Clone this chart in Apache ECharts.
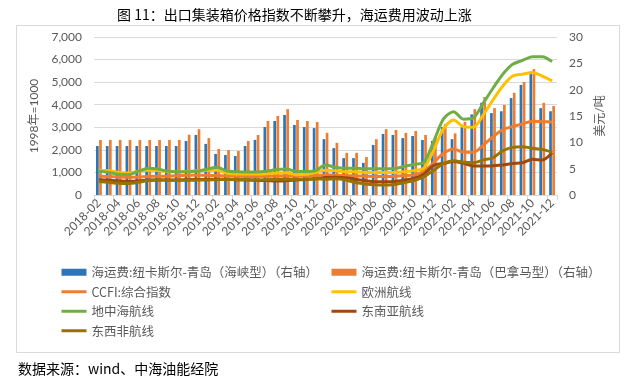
<!DOCTYPE html>
<html><head><meta charset="utf-8">
<script src="https://cdn.jsdelivr.net/npm/echarts@6/dist/echarts.min.js"></script>
<style>html,body{margin:0;padding:0;background:#fff}#c{width:637px;height:385px}</style>
</head><body><div id="c"></div>
<script>
const months = ['2018-02','2018-03','2018-04','2018-05','2018-06','2018-07','2018-08','2018-09','2018-10','2018-11','2018-12',
'2019-01','2019-02','2019-03','2019-04','2019-05','2019-06','2019-07','2019-08','2019-09','2019-10','2019-11','2019-12',
'2020-01','2020-02','2020-03','2020-04','2020-05','2020-06','2020-07','2020-08','2020-09','2020-10','2020-11','2020-12',
'2021-01','2021-02','2021-03','2021-04','2021-05','2021-06','2021-07','2021-08','2021-09','2021-10','2021-11','2021-12'];
const capesize = [9.3,9.3,9.3,9.3,9.3,9.3,9.3,9.3,9.3,10.25,11.4,9.7,7.8,7.6,7.4,9.3,10.45,12.9,14.05,15.2,13.3,12.9,12.7,
10.6,8.9,7.0,7.0,6.1,9.5,11.6,11.4,10.8,11.2,10.45,10.25,12.9,10.6,12.85,15.3,17.5,15.55,15.9,18.4,20.9,23.1,16.5,15.9];
const panamax = [10.45,10.45,10.45,10.45,10.45,10.45,10.45,10.45,10.45,11.45,12.5,10.8,8.75,8.55,8.35,10.25,11.4,14.05,15.0,16.3,14.25,14.05,13.85,
11.8,9.9,8.0,8.0,7.2,10.6,12.5,12.35,11.8,12.15,11.4,11.2,13.5,11.7,13.9,16.3,18.6,16.5,17.1,19.4,21.45,23.9,17.5,16.9];
const ccfi = [830,820,800,790,800,820,830,840,850,870,880,870,860,840,830,820,820,830,840,850,840,840,860,
900,880,860,850,840,820,820,830,860,900,1050,1450,1850,2040,1900,1890,2200,2580,2900,3030,3150,3270,3250,3230];
const europe = [1100,1080,1000,980,1050,1100,1080,1040,1030,1050,1080,1100,1100,960,930,930,930,940,980,990,900,920,1000,
1100,1080,1030,1030,1000,1000,1000,1000,1030,1080,1200,2000,2950,3320,3030,3000,3540,4210,4830,5270,5350,5430,5270,5060];
const mediterranean = [1050,1000,920,900,1050,1180,1150,1050,1030,1030,1050,1150,1230,1060,1030,1020,1020,1050,1130,1150,1050,1040,1080,
1330,1230,1180,1180,1160,1160,1160,1170,1270,1360,1450,2400,3380,3690,3360,3420,4060,4730,5350,5790,5960,6130,6130,5910];
const seAsia = [680,650,620,600,620,660,670,670,670,680,690,690,700,690,680,660,650,640,620,630,660,690,720,
770,790,770,700,640,590,590,600,660,740,930,1320,1400,1480,1400,1290,1290,1300,1330,1400,1430,1580,1550,1870];
const eastWestAfrica = [600,560,520,510,560,640,660,660,650,650,660,670,680,690,690,680,670,680,690,700,700,700,720,
700,720,670,550,490,450,440,470,550,640,810,1100,1400,1520,1450,1430,1550,1650,1960,2110,2140,2070,2020,1890];

const names = ['海运费:纽卡斯尔-青岛（海峡型）（右轴）','海运费:纽卡斯尔-青岛（巴拿马型）（右轴）','CCFI:综合指数','欧洲航线','地中海航线','东南亚航线','东西非航线'];
const colors = ['#2E75B6','#ED7D31','#ED7D31','#FFC000','#70AD47','#9E480E','#997300'];
const FONT = "Lato, 'Noto Sans CJK SC', sans-serif";
const gray = '#595959';

const chart = echarts.init(document.getElementById('c'), null, {renderer:'canvas'});
function lineSeries(i, data) {
  return {name: names[i], type:'line', yAxisIndex:0, data, smooth:0.3, symbol:'none', showSymbol:false,
    lineStyle:{width:3, color:colors[i]}, itemStyle:{color:colors[i]}, z:3};
}
function lineItem(i) { return {name: names[i], itemStyle:{opacity:0}, lineStyle:{width:3, color:colors[i]}}; }
const legendText = {color: gray, fontSize: 12.5, fontFamily: "'Noto Sans CJK SC', sans-serif"};
chart.setOption({
  animation:false,
  title:{text:'图 11：出口集装箱价格指数不断攀升，海运费用波动上涨', left:112, top:3,
    textStyle:{fontSize:14, fontWeight:'normal', color:'#000', fontFamily:"'Noto Sans CJK SC', serif"}},
  graphic:[
    {type:'rect', shape:{x:16.5, y:25.5, width:603, height:327}, style:{fill:null, stroke:'#D9D9D9', lineWidth:1}, silent:true},
    {type:'text', left:18, top:362, style:{text:'数据来源：wind、中海油能经院', fill:'#000', fontSize:14, fontFamily:"'Noto Sans CJK SC', sans-serif"}}
  ],
  grid:{left:94, right:80, top:37, bottom:190, containLabel:false},
  legend:[
    {left:55, top:261, orient:'vertical', itemWidth:25, itemHeight:7, itemGap:7, textStyle:legendText,
     data:[{name:names[0], icon:'rect'}, lineItem(2), lineItem(4), lineItem(6)]},
    {left:325, top:261, orient:'vertical', itemWidth:25, itemHeight:7, itemGap:7, textStyle:legendText,
     data:[{name:names[1], icon:'rect'}, lineItem(3), lineItem(5)]}
  ],
  xAxis:{type:'category', data:months, boundaryGap:true,
    axisLine:{lineStyle:{color:'#D9D9D9'}},
    axisTick:{show:true, interval:1, length:5, lineStyle:{color:'#D9D9D9'}},
    axisLabel:{interval:1, rotate:45, color:gray, fontSize:12, fontFamily:FONT, margin:6}},
  yAxis:[
    {type:'value', min:0, max:7000, interval:1000, position:'left',
     name:'1998年=1000', nameLocation:'middle', nameRotate:90, nameGap:42,
     nameTextStyle:{color:gray, fontSize:12, fontFamily:FONT},
     axisLine:{show:false}, axisTick:{show:false},
     splitLine:{lineStyle:{color:'#D9D9D9'}},
     axisLabel:{color:gray, fontSize:12, fontFamily:FONT, margin:12,
       formatter:v=>v.toLocaleString('en-US')}},
    {type:'value', min:0, max:30, interval:5, position:'right',
     name:'美元/吨', nameLocation:'middle', nameRotate:90, nameGap:30,
     nameTextStyle:{color:gray, fontSize:12, fontFamily:FONT},
     axisLine:{show:false}, axisTick:{show:false}, splitLine:{show:false},
     axisLabel:{color:gray, fontSize:12, fontFamily:FONT, margin:12}}
  ],
  series:[
    {name:names[0], type:'bar', yAxisIndex:1, data:capesize, barWidth:2.7, barGap:'15%', itemStyle:{color:colors[0]}, z:2},
    {name:names[1], type:'bar', yAxisIndex:1, data:panamax, barWidth:2.7, barGap:'15%', itemStyle:{color:colors[1]}, z:2},
    lineSeries(2, ccfi),
    lineSeries(3, europe),
    lineSeries(4, mediterranean),
    lineSeries(5, seAsia),
    lineSeries(6, eastWestAfrica)
  ]
});
</script></body></html>
